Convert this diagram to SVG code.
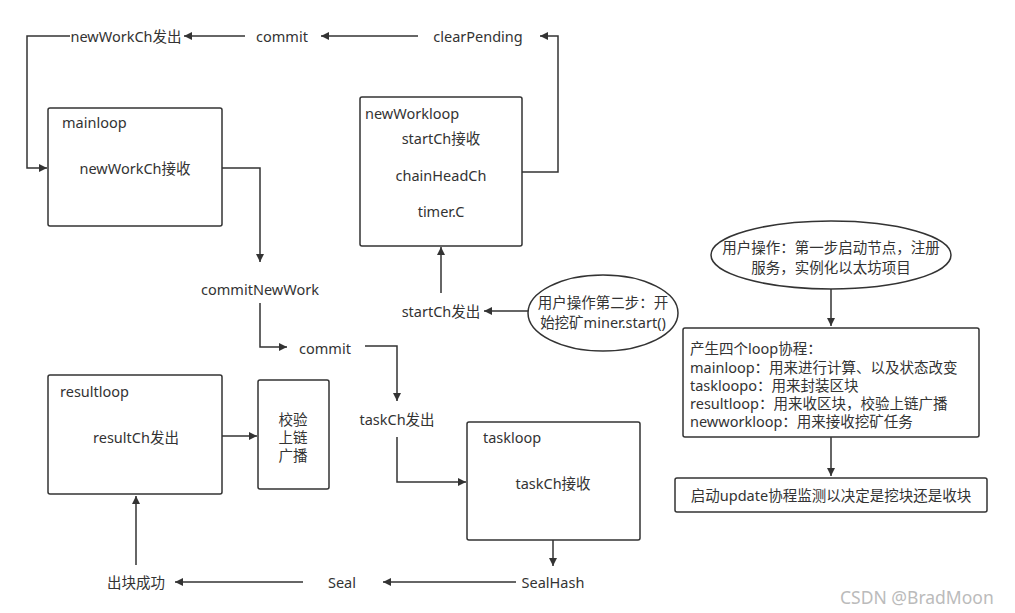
<svg xmlns="http://www.w3.org/2000/svg" width="1015" height="613" viewBox="0 0 1015 613">
<style>
text{font-family:"Noto Sans","Noto Sans CJK SC",sans-serif;font-size:14.5px;fill:#333;dominant-baseline:central}
.c{text-anchor:middle}
.box{fill:#fff;stroke:#333;stroke-width:1.5}
.ln{fill:none;stroke:#333;stroke-width:1.5;marker-end:url(#ah)}
.wm{fill:#bbb;font-size:17.5px}
</style>
<defs>
<marker id="ah" viewBox="0 0 10 10" refX="10" refY="5" markerWidth="9" markerHeight="8" markerUnits="userSpaceOnUse" orient="auto">
<path d="M0,0L10,5L0,10z" fill="#333"/>
</marker>
</defs>
<rect width="1015" height="613" fill="#fff"/>
<g id="connectors">
<path class="ln" d="M70,36H27V168H47"/>
<path class="ln" d="M245,36H184"/>
<path class="ln" d="M418,36H321"/>
<path class="ln" d="M522,172H558V36H540"/>
<path class="ln" d="M222,168H260V262"/>
<path class="ln" d="M260,303V347H287"/>
<path class="ln" d="M365,346H397V401"/>
<path class="ln" d="M397,437V482H466"/>
<path class="ln" d="M553,540V566"/>
<path class="ln" d="M516,582H383"/>
<path class="ln" d="M303,582H175"/>
<path class="ln" d="M136,565V496"/>
<path class="ln" d="M222,436H257"/>
<path class="ln" d="M441,293V247"/>
<path class="ln" d="M528,311H484"/>
<path class="ln" d="M831,289V326"/>
<path class="ln" d="M831,437V476"/>
</g>
<g id="newWorkCh-out"><text class="c" x="126" y="36">newWorkCh发出</text></g>
<g id="commit-top"><text class="c" x="282" y="36">commit</text></g>
<g id="clearPending"><text class="c" x="478" y="36">clearPending</text></g>
<g id="mainloop">
<rect class="box" x="48" y="108" width="174" height="118" rx="2"/>
<text x="62" y="122">mainloop</text>
<text class="c" x="135" y="168">newWorkCh接收</text>
</g>
<g id="newWorkloop">
<rect class="box" x="360" y="97" width="162" height="149" rx="2"/>
<text x="365" y="113">newWorkloop</text>
<text class="c" x="441" y="138">startCh接收</text>
<text class="c" x="441" y="175">chainHeadCh</text>
<text class="c" x="441" y="211">timer.C</text>
</g>
<g id="commitNewWork"><text class="c" x="260" y="289">commitNewWork</text></g>
<g id="commit-mid"><text class="c" x="325" y="348">commit</text></g>
<g id="startCh-out"><text class="c" x="441" y="311">startCh发出</text></g>
<g id="step2">
<ellipse cx="603" cy="313" rx="75" ry="38" fill="#fff" stroke="#333" stroke-width="1.5"/>
<text class="c" x="603" y="302">用户操作第二步：开</text>
<text class="c" x="603" y="322">始挖矿miner.start()</text>
</g>
<g id="taskCh-out"><text class="c" x="397" y="419">taskCh发出</text></g>
<g id="resultloop">
<rect class="box" x="48" y="375" width="174" height="119" rx="2"/>
<text x="60" y="391">resultloop</text>
<text class="c" x="136" y="437">resultCh发出</text>
</g>
<g id="verify">
<rect class="box" x="258" y="380" width="71" height="109" rx="2"/>
<text class="c" x="293" y="419">校验</text>
<text class="c" x="293" y="437">上链</text>
<text class="c" x="293" y="455">广播</text>
</g>
<g id="taskloop">
<rect class="box" x="467" y="422" width="173" height="118" rx="2"/>
<text x="483" y="437">taskloop</text>
<text class="c" x="553" y="483">taskCh接收</text>
</g>
<g id="SealHash"><text class="c" x="553" y="582">SealHash</text></g>
<g id="Seal"><text class="c" x="342" y="582">Seal</text></g>
<g id="success"><text class="c" x="136" y="582">出块成功</text></g>
<g id="step1">
<ellipse cx="831" cy="255" rx="120" ry="34" fill="#fff" stroke="#333" stroke-width="1.5"/>
<text class="c" x="831" y="247">用户操作：第一步启动节点，注册</text>
<text class="c" x="831" y="267">服务，实例化以太坊项目</text>
</g>
<g id="loops">
<rect class="box" x="683" y="328" width="296" height="109" rx="2"/>
<text x="690" y="348">产生四个loop协程：</text>
<text x="690" y="367">mainloop：用来进行计算、以及状态改变</text>
<text x="690" y="385">taskloopo：用来封装区块</text>
<text x="690" y="403">resultloop：用来收区块，校验上链广播</text>
<text x="690" y="421">newworkloop：用来接收挖矿任务</text>
</g>
<g id="update">
<rect class="box" x="675" y="478" width="312" height="34" rx="2"/>
<text class="c" x="831" y="495">启动update协程监测以决定是挖块还是收块</text>
</g>
<text class="wm" x="840" y="597">CSDN @BradMoon</text>
</svg>
